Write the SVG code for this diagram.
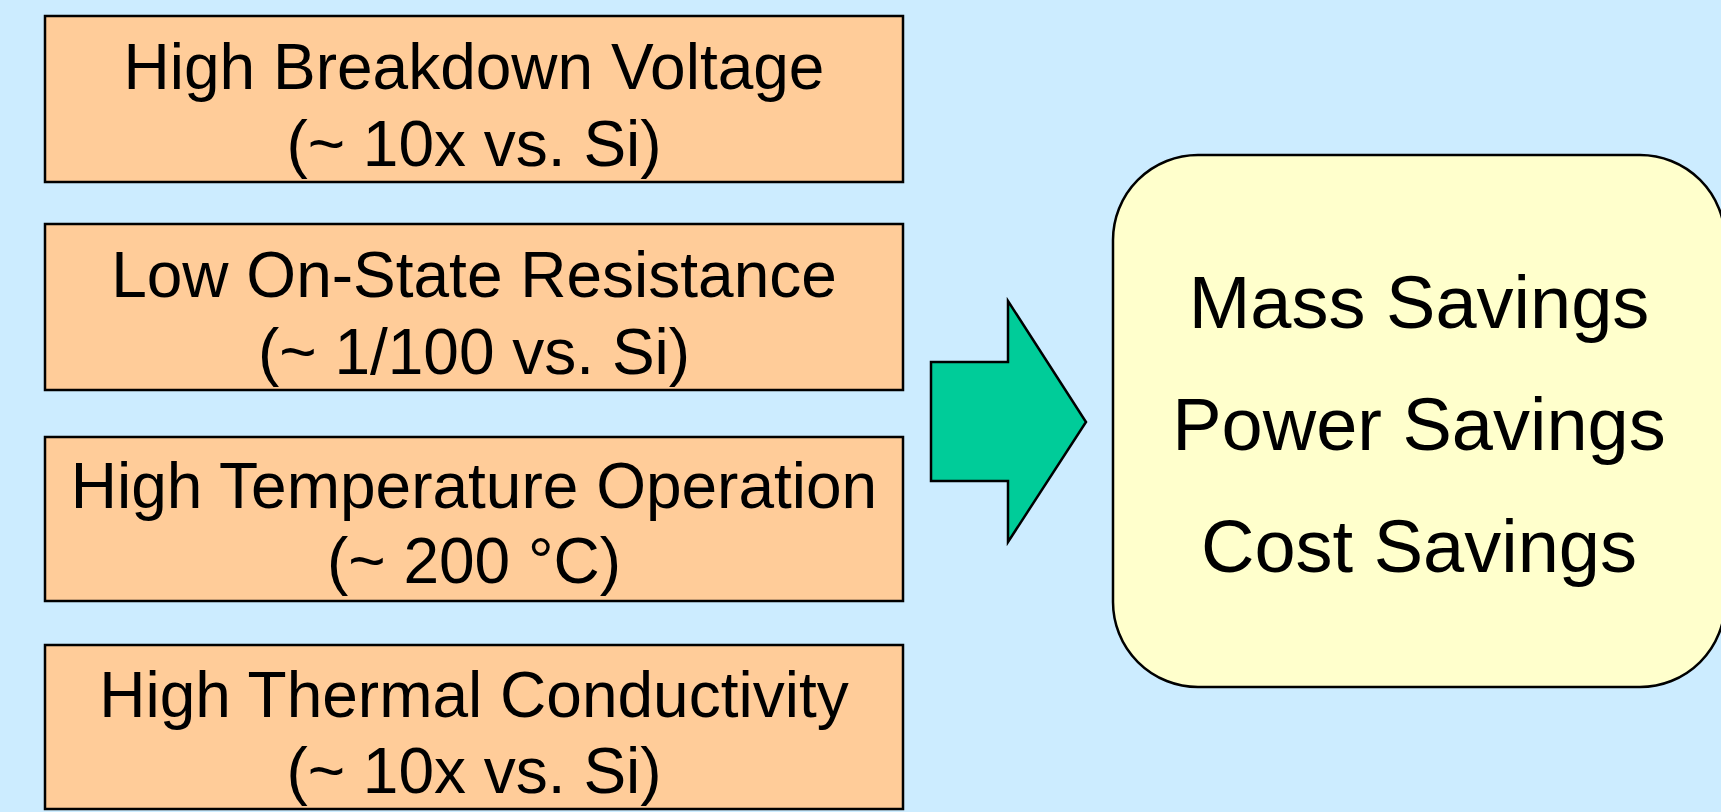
<svg xmlns="http://www.w3.org/2000/svg" width="1721" height="812" viewBox="0 0 1721 812">
<style>
.bg{fill:#CCECFF}
.box{fill:#FFCC99;stroke:#000;stroke-width:2.5}
.res{fill:#FFFFCC;stroke:#000;stroke-width:2.5}
.arrow{fill:#00CC99;stroke:#000;stroke-width:2.5;stroke-linejoin:miter}
text{font-family:"Liberation Sans",Arial,sans-serif;fill:#000;text-anchor:middle}
.t{font-size:64px}
.r{font-size:74px}
</style>
<rect class="bg" x="0" y="0" width="1721" height="812"/>
<g id="node-breakdown">
<rect class="box" x="45" y="16" width="858" height="166"/>
<text class="t" x="474" y="89">High Breakdown Voltage</text>
<text class="t" x="474" y="166">(~ 10x vs. Si)</text>
</g>
<g id="node-resistance">
<rect class="box" x="45" y="224" width="858" height="166"/>
<text class="t" x="474" y="297">Low On-State Resistance</text>
<text class="t" x="474" y="374">(~ 1/100 vs. Si)</text>
</g>
<g id="node-temperature">
<rect class="box" x="45" y="437" width="858" height="164"/>
<text class="t" x="474" y="508">High Temperature Operation</text>
<text class="t" x="474" y="583">(~ 200 °C)</text>
</g>
<g id="node-thermal">
<rect class="box" x="45" y="645" width="858" height="164"/>
<text class="t" x="474" y="717">High Thermal Conductivity</text>
<text class="t" x="474" y="793">(~ 10x vs. Si)</text>
</g>
<g id="connectors">
<polygon class="arrow" points="931,362 1008,362 1008,301 1086,422 1008,542 1008,481 931,481"/>
</g>
<g id="node-savings">
<rect class="res" x="1113" y="155" width="612" height="532" rx="85" ry="85"/>
<text class="r" x="1419" y="328">Mass Savings</text>
<text class="r" x="1419" y="450">Power Savings</text>
<text class="r" x="1419" y="572">Cost Savings</text>
</g>
</svg>
